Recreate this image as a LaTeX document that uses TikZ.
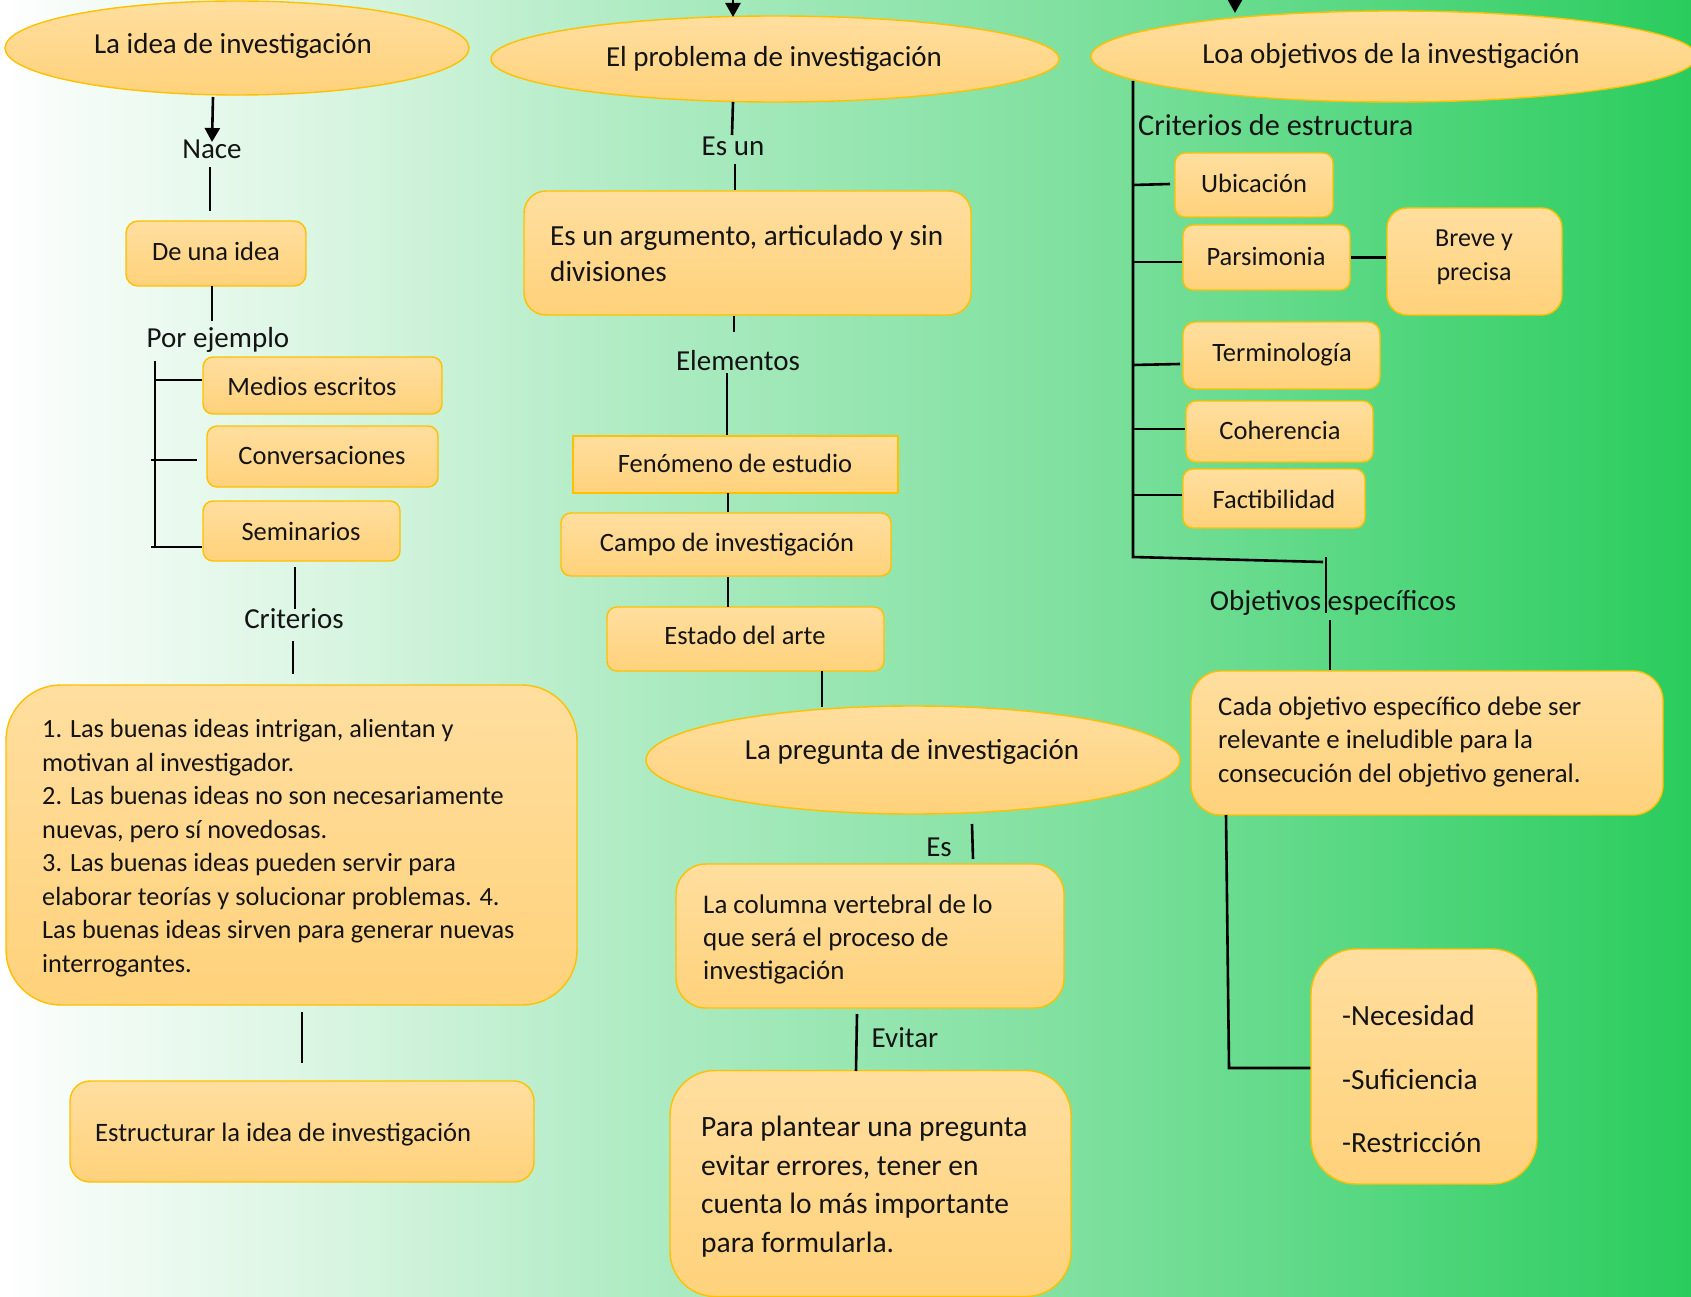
\documentclass[tikz,border=0pt]{standalone}
\usepackage{fontspec}
\setmainfont{Carlito}
\usetikzlibrary{shapes.geometric,arrows.meta}
\definecolor{boxline}{HTML}{FFC000}
\definecolor{boxtop}{HTML}{FFDE9F}
\definecolor{boxbot}{HTML}{FFD27B}
\definecolor{gA}{HTML}{FFFFFF}
\definecolor{gB}{HTML}{F6FCF8}
\definecolor{gC}{HTML}{D8F5E1}
\definecolor{gD}{HTML}{B2ECC6}
\definecolor{gE}{HTML}{7EE09E}
\definecolor{gF}{HTML}{54D77F}
\definecolor{gG}{HTML}{2ACC5D}
\definecolor{ink}{HTML}{141414}
\pgfdeclarehorizontalshading{bgshade}{100bp}{color(0bp)=(gA); color(25bp)=(gA); color(27bp)=(gB); color(35bp)=(gC); color(43bp)=(gD); color(57bp)=(gE); color(66bp)=(gF); color(75bp)=(gG); color(100bp)=(gG)}
\newcommand\fnTitle{\fontsize{29}{35}\selectfont}
\newcommand\fnLbl{\fontsize{29}{35}\selectfont}
\newcommand\fnBox{\fontsize{26.5}{36}\selectfont}
\begin{document}
\begin{tikzpicture}[x=1pt,y=-1pt,
  box/.style={draw=boxline, line width=1.4pt, top color=boxtop, bottom color=boxbot, inner sep=0pt},
  ell/.style={ellipse, draw=boxline, line width=1.4pt, top color=boxtop, bottom color=boxbot, inner sep=0pt},
  txt/.style={inner sep=0pt, text=ink, font=\fnBox},
  ttl/.style={inner sep=0pt, text=ink, font=\fnTitle},
  lbl/.style={inner sep=0pt, text=ink, font=\fnLbl},
  conn/.style={line width=2.6pt, draw=black},
  tip/.style={-{Triangle[length=14pt,width=15pt]}}
]
\useasboundingbox (0,0) rectangle (1691,1297);
\fill[shading=bgshade] (0,0) rectangle (1691,1297);

% ---------- ellipses ----------
\node[ell, minimum width=464pt, minimum height=94pt] (e1) at (237,48) {};
\node[ttl] (te1) at (233,46) {La idea de investigación};
\node[ell, minimum width=568pt, minimum height=86pt] (e2) at (775,59) {};
\node[ttl] (te2) at (774,58.5) {El problema de investigación};
\node[ell, minimum width=606pt, minimum height=91pt] (e3) at (1394,56.5) {};
\node[ttl] (te3) at (1391,55.5) {Loa objetivos de la investigación};
\node[ell, minimum width=534pt, minimum height=108pt] (e4) at (913,760) {};
\node[ttl] (te4) at (912,752) {La pregunta de investigación};

% ---------- left column ----------
\node[lbl] (lNace) at (212,149) {Nace};
\node[box, rounded corners=12pt, minimum width=180pt, minimum height=65pt] (b1) at (216,253.5) {};
\node[txt] (t1) at (216,251) {De una idea};
\node[lbl] (lPor) at (218,340) {Por ejemplo};
\node[box, rounded corners=10pt, minimum width=239pt, minimum height=57pt] (b2) at (322.5,385.5) {};
\node[txt] (t2) at (312,386) {Medios escritos};
\node[box, rounded corners=10pt, minimum width=231pt, minimum height=61pt] (b3) at (322.5,456.5) {};
\node[txt] (t3) at (322,455) {Conversaciones};
\node[box, rounded corners=10pt, minimum width=197pt, minimum height=60pt] (b4) at (301.5,531) {};
\node[txt] (t4) at (301,531) {Seminarios};
\node[lbl] (lCrit) at (294,619) {Criterios};
\node[box, rounded corners=55pt, minimum width=571pt, minimum height=320pt] (b5) at (291.5,845) {};
\node[txt, anchor=west, align=left, font=\fontsize{26.3}{33.5}\selectfont] (t5) at (42,848) {1. Las buenas ideas intrigan, alientan y\\motivan al investigador.\\2. Las buenas ideas no son necesariamente\\nuevas, pero sí novedosas.\\3. Las buenas ideas pueden servir para\\elaborar teorías y solucionar problemas. 4.\\Las buenas ideas sirven para generar nuevas\\interrogantes.};
\node[box, rounded corners=20pt, minimum width=464pt, minimum height=101pt] (b6) at (302,1131.5) {};
\node[txt, anchor=west, font=\fontsize{26.6}{33}\selectfont] (t6) at (95,1135) {Estructurar la idea de investigación};

% ---------- middle column ----------
\node[lbl] (lEsun) at (733,146) {Es un};
\node[box, rounded corners=22pt, minimum width=447pt, minimum height=124pt] (b7) at (747.5,253) {};
\node[txt, anchor=west, align=left, font=\fontsize{29.2}{36}\selectfont] (t7) at (550,253) {Es un argumento, articulado y sin\\divisiones};
\node[lbl] (lElem) at (738,361) {Elementos};
\node[box, minimum width=325pt, minimum height=57pt] (b8) at (735.5,464.5) {};
\node[txt] (t8) at (735,463) {Fenómeno de estudio};
\node[box, rounded corners=10pt, minimum width=330pt, minimum height=63pt] (b9) at (726,544.5) {};
\node[txt] (t9) at (727,545) {Campo de investigación};
\node[box, rounded corners=10pt, minimum width=277pt, minimum height=64pt] (b10) at (745.5,639) {};
\node[txt] (t10) at (745,635) {Estado del arte};
\node[lbl] (lEs) at (939,847) {Es};
\node[box, rounded corners=30pt, minimum width=388pt, minimum height=144pt] (b11) at (870,936) {};
\node[txt, anchor=west, align=left, font=\fontsize{26.9}{33}\selectfont] (t11) at (703,939) {La columna vertebral de lo\\que será el proceso de\\investigación};
\node[lbl] (lEvit) at (905,1038) {Evitar};
\node[box, rounded corners=45pt, minimum width=401pt, minimum height=226pt] (b12) at (870.5,1183.5) {};
\node[txt, anchor=west, align=left, font=\fontsize{29.5}{38.5}\selectfont] (t12) at (701,1186.5) {Para plantear una pregunta\\evitar errores, tener en\\cuenta lo más importante\\para formularla.};

% ---------- right column ----------
\node[lbl, anchor=west, font=\fontsize{30.3}{35}\selectfont] (lCde) at (1138,125) {Criterios de estructura};
\node[box, rounded corners=10pt, minimum width=158pt, minimum height=64pt] (b13) at (1254,185) {};
\node[txt] (t13) at (1254,183) {Ubicación};
\node[box, rounded corners=10pt, minimum width=167pt, minimum height=65pt] (b14) at (1266.5,257.5) {};
\node[txt] (t14) at (1266,256) {Parsimonia};
\node[box, rounded corners=20pt, minimum width=175pt, minimum height=107pt] (b15) at (1474.5,261.5) {};
\node[txt, align=center, font=\fontsize{26}{34}\selectfont] (t15) at (1474,257) {Breve y\\precisa};
\node[box, rounded corners=12pt, minimum width=197pt, minimum height=67pt] (b16) at (1281.5,355.5) {};
\node[txt] (t16) at (1282,355) {Terminología};
\node[box, rounded corners=10pt, minimum width=187pt, minimum height=61pt] (b17) at (1279.5,431.5) {};
\node[txt] (t17) at (1280,430) {Coherencia};
\node[box, rounded corners=10pt, minimum width=182pt, minimum height=59pt] (b18) at (1274,498.5) {};
\node[txt] (t18) at (1274,499) {Factibilidad};
\node[lbl] (lObj) at (1333,603) {Objetivos específicos};
\node[box, rounded corners=30pt, minimum width=472pt, minimum height=144pt] (b19) at (1427,743) {};
\node[txt, anchor=west, align=left, font=\fontsize{26.8}{33.5}\selectfont] (t19) at (1218,741.5) {Cada objetivo específico debe ser\\relevante e ineludible para la\\consecución del objetivo general.};
\node[box, rounded corners=45pt, minimum width=226pt, minimum height=235pt] (b20) at (1424,1066.5) {};
\node[txt, anchor=west, align=left, font=\fontsize{29.3}{63.5}\selectfont] (t20) at (1342,1079) {-Necesidad\\-Suficiencia\\-Restricción};

% ---------- connector end points ----------
\coordinate (p1a) at (213,97);   \coordinate (p1b) at (212,142);
\coordinate (p2a) at (210,167);  \coordinate (p2b) at (210,211);
\coordinate (p3a) at (212,286);  \coordinate (p3b) at (212,321);
\coordinate (k0) at (155,361);   \coordinate (k3) at (155,547);
\coordinate (k1) at (155,380);   \coordinate (k2a) at (151,460); \coordinate (k2) at (197,460);
\coordinate (k3a) at (151,547);
\coordinate (p4a) at (295,567);  \coordinate (p4b) at (295,609);
\coordinate (p5a) at (293,641);  \coordinate (p5b) at (293,674);
\coordinate (p6a) at (302,1012); \coordinate (p6b) at (302,1063);
\coordinate (m0) at (733,-2);    \coordinate (m0b) at (733,17);
\coordinate (m1a) at (733,102);  \coordinate (m1b) at (732,135);
\coordinate (m2a) at (735,164);  \coordinate (m2b) at (735,190);
\coordinate (m3a) at (734,316);  \coordinate (m3b) at (734,332);
\coordinate (m4a) at (727,373);  \coordinate (m4b) at (727,435);
\coordinate (m5a) at (728,493);  \coordinate (m5b) at (728,512);
\coordinate (m6a) at (728,577);  \coordinate (m6b) at (728,607);
\coordinate (m7a) at (822,671);  \coordinate (m7b) at (822,707);
\coordinate (m8a) at (972,824);  \coordinate (m8b) at (973,859);
\coordinate (m9a) at (857,1014); \coordinate (m9b) at (856,1071);
\coordinate (r0) at (1235,-2);   \coordinate (r0b) at (1235,13);
\coordinate (rv0) at (1133,81);  \coordinate (rv1) at (1133,557);
\coordinate (rs1) at (1133,185); \coordinate (rs1b) at (1170,184);
\coordinate (rs2) at (1133,262);
\coordinate (rs3) at (1133,365); \coordinate (rs3b) at (1180,364);
\coordinate (rs4) at (1133,429);
\coordinate (rs5) at (1133,495);
\coordinate (rb1) at (1323,562);
\coordinate (ru1) at (1326,557); \coordinate (ru2) at (1326,613);
\coordinate (rl1) at (1330,620); \coordinate (rl2) at (1330,670);
\coordinate (rq1) at (1226,815); \coordinate (rq2) at (1229,1068);

% ---------- connectors ----------
\draw[conn, tip] (p1a) -- (p1b);
\draw[conn] (p2a) -- (p2b);
\draw[conn] (p3a) -- (p3b);
\draw[conn] (k0) -- (k3);
\draw[conn] (k1) -- (k1 -| b2.west);
\draw[conn] (k2a) -- (k2);
\draw[conn] (k3a) -- (k3a -| b4.west);
\draw[conn] (p4a) -- (p4b);
\draw[conn] (p5a) -- (p5b);
\draw[conn] (p6a) -- (p6b);

\draw[conn, tip] (m0) -- (m0b);
\draw[conn] (m1a) -- (m1b);
\draw[conn] (m2a) -- (m2b);
\draw[conn] (m3a) -- (m3b);
\draw[conn] (m4a) -- (m4b);
\draw[conn] (m5a) -- (m5b);
\draw[conn] (m6a) -- (m6b);
\draw[conn] (m7a) -- (m7b);
\draw[conn] (m8a) -- (m8b);
\draw[conn] (m9a) -- (m9b);

\draw[conn, tip] (r0) -- (r0b);
\draw[conn] (rv0) -- (rv1) -- (rb1);
\draw[conn] (rs1) -- (rs1b);
\draw[conn] (rs2) -- (rs2 -| b14.west);
\draw[conn] (rs3) -- (rs3b);
\draw[conn] (rs4) -- (rs4 -| b17.west);
\draw[conn] (rs5) -- (rs5 -| b18.west);
\draw[conn] (b14.east) -- (b15.west |- b14.east);
\draw[conn] (ru1) -- (ru2);
\draw[conn] (rl1) -- (rl2);
\draw[conn] (rq1) -- (rq2) -- (rq2 -| b20.west);
\end{tikzpicture}
\end{document}
